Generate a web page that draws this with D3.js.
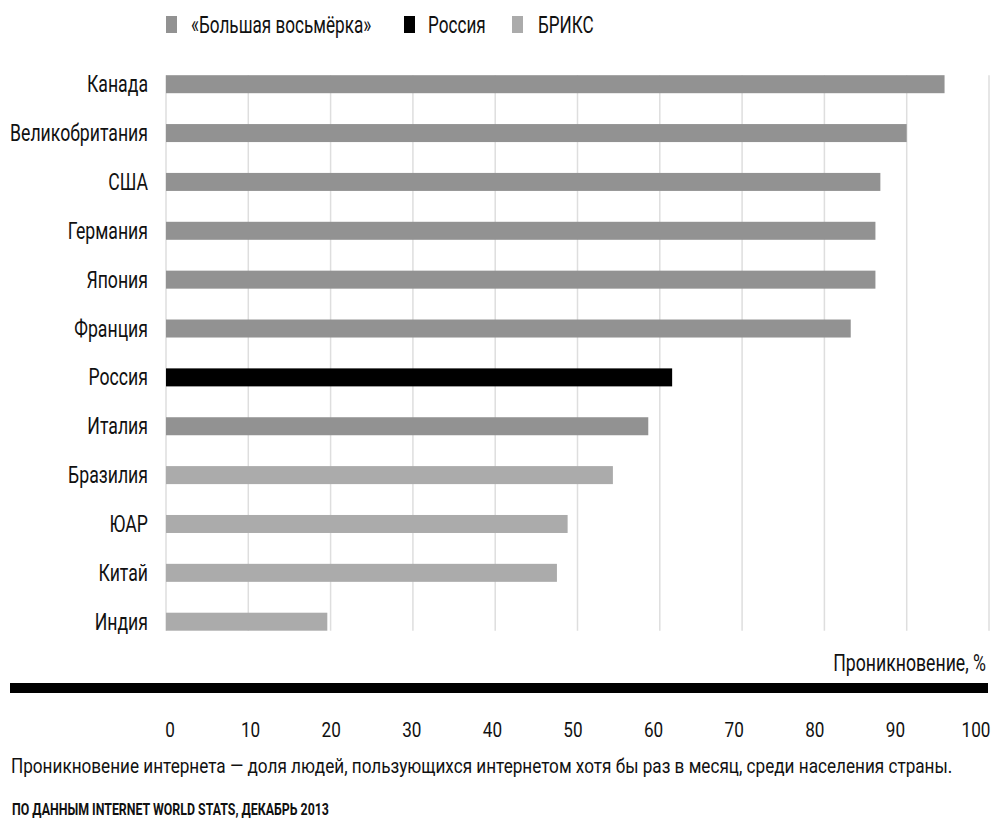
<!DOCTYPE html>
<html>
<head>
<meta charset="utf-8">
<script src="https://cdn.jsdelivr.net/npm/d3@7"></script>
<style>
  body { margin: 0; background: #fff; }
  text { font-family: Roboto, "DejaVu Sans", sans-serif; fill: #111; }
</style>
</head>
<body>
<script>
// data (internet penetration, %)
var countries = ['Канада', 'Великобритания', 'США', 'Германия', 'Япония', 'Франция',
                 'Россия', 'Италия', 'Бразилия', 'ЮАР', 'Китай', 'Индия'];
var values = [94.6, 90.0, 86.8, 86.2, 86.2, 83.2, 61.5, 58.6, 54.3, 48.8, 47.5, 19.6];
var groups = ['g8', 'g8', 'g8', 'g8', 'g8', 'g8', 'ru', 'g8', 'brics', 'brics', 'brics', 'brics'];
var legendKeys = ['g8', 'ru', 'brics'];
var legendLabels = ['«Большая восьмёрка»', 'Россия', 'БРИКС'];
var tickValues = [0, 10, 20, 30, 40, 50, 60, 70, 80, 90, 100];

var caption = 'Проникновение интернета — доля людей, пользующихся интернетом хотя бы раз в месяц, среди населения страны.';
var source = 'ПО ДАННЫМ INTERNET WORLD STATS, ДЕКАБРЬ 2013';

var colors = { g8: '#929292', ru: '#000000', brics: '#ababab' };

var svg = d3.select('body').append('svg')
    .attr('width', 993)
    .attr('height', 818);

// the original uses a tall condensed face: squeeze a normal one sideways
function squeeze(sel, k, fx, fy) {
    sel.attr('transform', function(d, i) {
        return 'translate(' + fx(d, i) + ',' + fy(d, i) + ') scale(' + k + ',1)';
    });
}
function fitK(str, size, weight, width) {
    var t = svg.append('text').style('font-size', size + 'px').style('font-weight', weight).text(str);
    var w = t.node().getComputedTextLength();
    t.remove();
    return width / w;
}
var k = fitK(caption, 21, 'normal', 942);
var kBig = fitK('Великобритания', 23, 'normal', 138);
var kBold = fitK(source, 16, 'bold', 317);

var x = d3.scaleLinear().domain([0, 100]).range([166, 989]);
// the printed tick numbers sit on a slightly narrower scale than the grid
var xLabels = d3.scaleLinear().domain([0, 100]).range([170, 976]);
var y = d3.scalePoint().domain(countries).range([84.2, 621.7]);
var barH = 18;

// grid
svg.append('g').selectAll('line')
    .data(tickValues)
    .enter().append('line')
    .attr('x1', function(d) { return x(d); })
    .attr('x2', function(d) { return x(d); })
    .attr('y1', y(countries[0]) - barH / 2)
    .attr('y2', y(countries[countries.length - 1]) + barH / 2)
    .attr('stroke', '#dedede')
    .attr('stroke-width', 1.5);

// bars
svg.append('g').selectAll('rect')
    .data(countries)
    .enter().append('rect')
    .attr('x', x(0))
    .attr('y', function(d) { return y(d) - barH / 2; })
    .attr('width', function(d, i) { return x(values[i]) - x(0); })
    .attr('height', barH)
    .attr('fill', function(d, i) { return colors[groups[i]]; });

// country labels
svg.append('g').selectAll('text')
    .data(countries)
    .enter().append('text')
    .attr('dy', '0.35em')
    .attr('text-anchor', 'end')
    .style('font-size', '23px')
    .text(function(d) { return d; })
    .call(squeeze, kBig, function() { return 148; }, function(d) { return y(d); });

// legend
var legendRectX = [166, 404, 512];
var legendTextX = [191, 428, 538];
var legend = svg.append('g');
legend.selectAll('rect')
    .data(legendKeys)
    .enter().append('rect')
    .attr('x', function(d, i) { return legendRectX[i]; })
    .attr('y', 16)
    .attr('width', 11).attr('height', 17)
    .attr('fill', function(d) { return colors[d]; });
legend.selectAll('text')
    .data(legendKeys)
    .enter().append('text')
    .attr('dy', '0.35em')
    .style('font-size', '23px')
    .text(function(d, i) { return legendLabels[i]; })
    .call(squeeze, kBig * 0.97, function(d, i) { return legendTextX[i]; }, function() { return 25; });

// axis title and thick rule
svg.append('text')
    .attr('text-anchor', 'end')
    .style('font-size', '23px')
    .text('Проникновение, %')
    .call(squeeze, kBig, function() { return 986; }, function() { return 671; });

svg.append('rect')
    .attr('x', 10).attr('y', 683)
    .attr('width', 978).attr('height', 10)
    .attr('fill', '#000');

svg.append('g').selectAll('text')
    .data(tickValues)
    .enter().append('text')
    .attr('text-anchor', 'middle')
    .style('font-size', '21px')
    .text(function(d) { return d; })
    .call(squeeze, k, function(d) { return xLabels(d); }, function() { return 737; });

// notes
svg.append('text')
    .style('font-size', '21px')
    .text(caption)
    .call(squeeze, k, function() { return 11; }, function() { return 773; });

svg.append('text')
    .style('font-size', '16px')
    .style('font-weight', 'bold')
    .text(source)
    .call(squeeze, kBold, function() { return 12; }, function() { return 815; });
</script>
</body>
</html>
